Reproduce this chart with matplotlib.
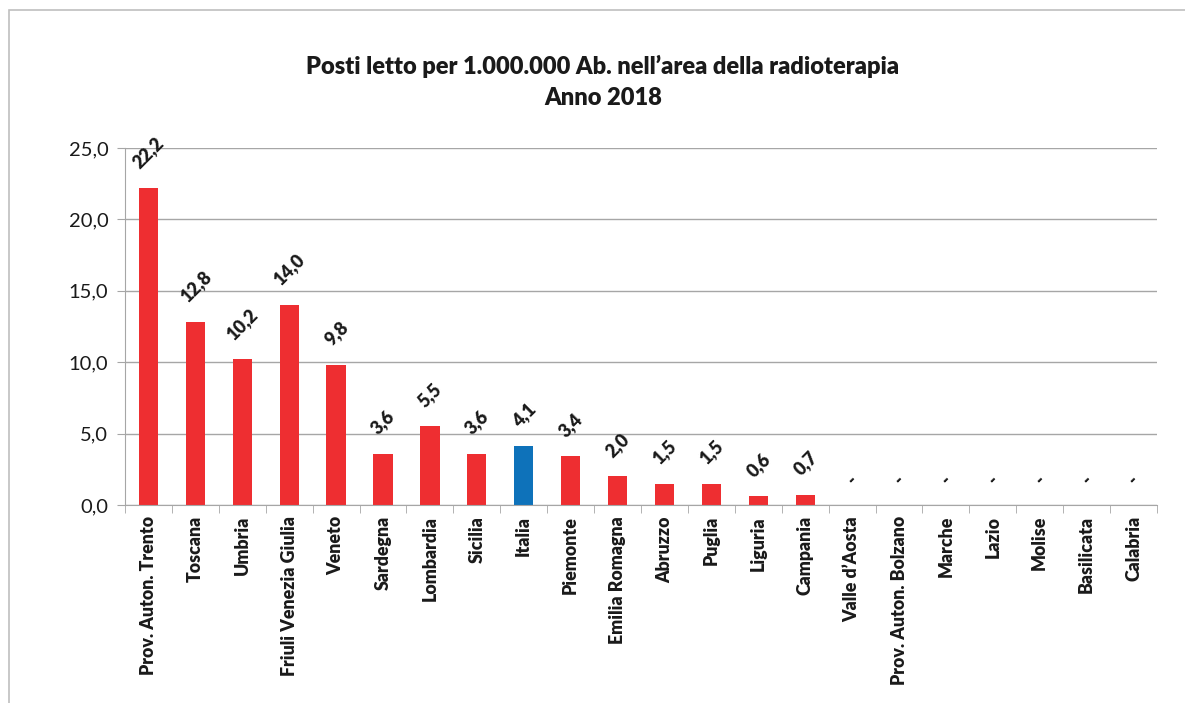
import matplotlib
matplotlib.use("Agg")
from matplotlib import pyplot as plt
from matplotlib.patches import Rectangle
import numpy as np

# Posti letto per 1.000.000 abitanti, radioterapia, anno 2018
regioni = ["Prov. Auton. Trento", "Toscana", "Umbria", "Friuli Venezia Giulia",
           "Veneto", "Sardegna", "Lombardia", "Sicilia", "Italia", "Piemonte",
           "Emilia Romagna", "Abruzzo", "Puglia", "Liguria", "Campania",
           "Valle d\u2019Aosta", "Prov. Auton. Bolzano", "Marche", "Lazio",
           "Molise", "Basilicata", "Calabria"]
posti_letto = [22.2, 12.8, 10.2, 14.0, 9.8, 3.6, 5.5, 3.6, 4.1, 3.4,
               2.0, 1.5, 1.5, 0.6, 0.7, 0, 0, 0, 0, 0, 0, 0]
etichette = [f"{v:.1f}".replace(".", ",") if v > 0 else "-" for v in posti_letto]
yticks = [0, 5, 10, 15, 20, 25]

plt.rcParams['font.family'] = ['Lato', 'DejaVu Sans']

rosso = "#EE2E31"
blu = "#0E72BA"
colori = [blu if r == "Italia" else rosso for r in regioni]

fig = plt.figure(figsize=(11.85, 7.03), dpi=100)
ax = fig.add_axes([125 / 1185, 1 - 505 / 703, (1157 - 125) / 1185, (505 - 148) / 703])

x = np.arange(len(regioni))
ax.bar(x, posti_letto, width=0.41, color=colori, zorder=3)

for xi, v, lab in zip(x, posti_letto, etichette):
    ax.annotate(lab, (xi, v), xytext=(0, 12), textcoords="offset points",
                rotation=45, ha="center", va="bottom", fontsize=13,
                fontweight="heavy", color="#1a1a1a")

ax.set_xlim(-0.5, len(regioni) - 0.5)
ax.set_ylim(0, 25)
ax.set_yticks(yticks)
ax.set_yticklabels([f"{t:.1f}".replace(".", ",") for t in yticks], fontsize=14.5, color="#1a1a1a")
ax.yaxis.grid(True, color="#a6a6a6", linewidth=1.0, zorder=0)
ax.tick_params(axis="y", length=6, color="#a6a6a6", pad=6)

# category labels centred on bars, tick marks between categories
ax.set_xticks(x)
ax.set_xticklabels(regioni, rotation=90, fontsize=12.8, fontweight="heavy", color="#1a1a1a")
ax.tick_params(axis="x", length=0, pad=8)
ax.set_xticks(np.arange(len(regioni) + 1) - 0.5, minor=True)
ax.tick_params(axis="x", which="minor", length=6, color="#a6a6a6")

for s in ["top", "right"]:
    ax.spines[s].set_visible(False)
for s in ["left", "bottom"]:
    ax.spines[s].set_color("#a6a6a6")
    ax.spines[s].set_zorder(4)

fig.text(603 / 1185, 1 - 66 / 703, "Posti letto per 1.000.000 Ab. nell\u2019area della radioterapia",
         ha="center", va="center", fontsize=17, fontweight="heavy", color="#1a1a1a")
fig.text(603 / 1185, 1 - 98 / 703, "Anno 2018",
         ha="center", va="center", fontsize=17, fontweight="heavy", color="#1a1a1a")

# outer chart frame
fig.patches.append(Rectangle((9 / 1185, -0.05), 1.1, 1 - 10 / 703 + 0.05,
                             transform=fig.transFigure, fill=False,
                             edgecolor="#bfbfbf", linewidth=1.2))

fig.savefig("out.png", dpi=100)
